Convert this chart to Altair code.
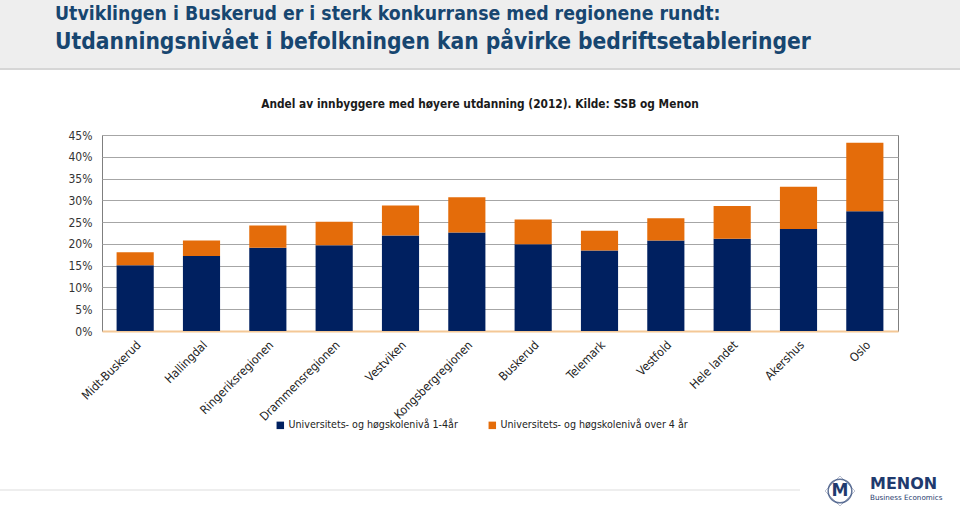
import altair as alt
import pandas as pd

regions = ["Midt-Buskerud", "Hallingdal", "Ringeriksregionen", "Drammensregionen",
           "Vestviken", "Kongsbergregionen", "Buskerud", "Telemark", "Vestfold",
           "Hele landet", "Akershus", "Oslo"]
lower = [15.1, 17.2, 19.1, 19.7, 21.9, 22.6, 19.9, 18.5, 20.8, 21.2, 23.4, 27.5]
upper = [3.0, 3.6, 5.1, 5.4, 6.9, 8.1, 5.7, 4.5, 5.1, 7.5, 9.7, 15.7]
series = ["Universitets- og høgskolenivå 1-4år", "Universitets- og høgskolenivå over 4 år"]
colors = ["#002060", "#E46C0A"]
y_ticks = [0, 0.05, 0.10, 0.15, 0.20, 0.25, 0.30, 0.35, 0.40, 0.45]
title1 = "Utviklingen i Buskerud er i sterk konkurranse med regionene rundt:"
title2 = "Utdanningsnivået i befolkningen kan påvirke bedriftsetableringer"
subtitle = "Andel av innbyggere med høyere utdanning (2012). Kilde: SSB og Menon"

rows = []
for i, r in enumerate(regions):
    rows.append({"region": r, "serie": series[0], "ord": 0, "value": lower[i] / 100})
    rows.append({"region": r, "serie": series[1], "ord": 1, "value": upper[i] / 100})
df = pd.DataFrame(rows)

W, H = 796, 196
PL, PT = 102, 135
FONT = "DejaVu Sans Condensed, sans-serif"
TCOL = "#174670"
LOGO = "#1F3A6E"

one = alt.Data(values=[{}])

header = alt.Chart(one).mark_rect(color="#EEEEEE").encode(
    x=alt.value(-PL), x2=alt.value(960 - PL), y=alt.value(-PT), y2=alt.value(68 - PT))
header_line = alt.Chart(one).mark_rule(color="#D6D6D6", strokeWidth=2).encode(
    x=alt.value(-PL), x2=alt.value(960 - PL), y=alt.value(69 - PT))
t1 = alt.Chart(one).mark_text(align="left", baseline="alphabetic", fontSize=19.3,
                              fontWeight="bold", font=FONT, color=TCOL, text=title1).encode(
    x=alt.value(55 - PL), y=alt.value(20 - PT))
t2 = alt.Chart(one).mark_text(align="left", baseline="alphabetic", fontSize=22.6,
                              fontWeight="bold", font=FONT, color=TCOL, text=title2).encode(
    x=alt.value(55 - PL), y=alt.value(49 - PT))
sub = alt.Chart(one).mark_text(align="center", baseline="alphabetic", fontSize=11.8,
                               fontWeight="bold", font=FONT, color="#1a1a1a", text=subtitle).encode(
    x=alt.value(480 - PL), y=alt.value(108 - PT))
footer_line = alt.Chart(one).mark_rule(color="#DDDDDD", strokeWidth=1).encode(
    x=alt.value(-PL), x2=alt.value(800 - PL), y=alt.value(490 - PT))
logo1 = alt.Chart(one).mark_text(align="left", baseline="alphabetic", fontSize=16,
                                 fontWeight="bold", font="DejaVu Sans", color=LOGO, text="MENON").encode(
    x=alt.value(870 - PL), y=alt.value(489 - PT))
logo2 = alt.Chart(one).mark_text(align="left", baseline="alphabetic", fontSize=7.2,
                                 font="DejaVu Sans", color=LOGO, text="Business Economics").encode(
    x=alt.value(870 - PL), y=alt.value(500 - PT))
logo_m = alt.Chart(one).mark_text(align="center", baseline="middle", fontSize=17,
                                  fontWeight="bold", font="DejaVu Sans", color=LOGO, text="M").encode(
    x=alt.value(840 - PL), y=alt.value(491 - PT))
logo_c = alt.Chart(one).mark_point(shape="circle", size=560, color=LOGO, strokeWidth=1.5).encode(
    x=alt.value(840 - PL), y=alt.value(491 - PT))
logo_d = alt.Chart(one).mark_point(shape="diamond", size=900, color="#8A93B0", strokeWidth=0.8).encode(
    x=alt.value(840 - PL), y=alt.value(491 - PT))

bars = alt.Chart(df).mark_bar().encode(
    x=alt.X("region:N", sort=regions,
            scale=alt.Scale(paddingInner=0.44, paddingOuter=0.22),
            axis=alt.Axis(title=None, labelAngle=-45, labelAlign="right", labelBaseline="top",
                          labelPadding=8, ticks=False, domainColor="#F4C896", domainWidth=2,
                          labelFontSize=12, labelColor="#222222", labelFont=FONT)),
    y=alt.Y("value:Q", stack="zero",
            scale=alt.Scale(domain=[0, 0.45], nice=False),
            axis=alt.Axis(values=y_ticks, format=".0%", title=None, grid=True,
                          gridColor="#A6A6A6", domain=False, ticks=False, labelPadding=10,
                          labelFontSize=12, labelColor="#333333", labelFont=FONT)),
    color=alt.Color("serie:N", scale=alt.Scale(domain=series, range=colors),
                    legend=alt.Legend(title=None, orient="none", legendX=173, legendY=285,
                                      direction="horizontal", symbolType="square",
                                      symbolSize=56, symbolStrokeWidth=0, labelFontSize=10.6,
                                      labelFont=FONT, labelColor="#222222", columnPadding=29,
                                      labelOffset=3, labelLimit=300)),
    order=alt.Order("ord:Q", sort="ascending"),
)

chart = alt.layer(header, header_line, t1, t2, sub, bars, footer_line,
                  logo_d, logo_c, logo_m, logo1, logo2).properties(
    width=W, height=H,
    autosize=alt.AutoSizeParams(type="none"),
    padding={"left": PL, "top": PT, "right": 960 - PL - W, "bottom": 511 - PT - H},
    background="white",
).configure_view(stroke="#7F7F7F", strokeWidth=1)

chart.save("out.html", embed_options={"renderer": "svg", "actions": False})
